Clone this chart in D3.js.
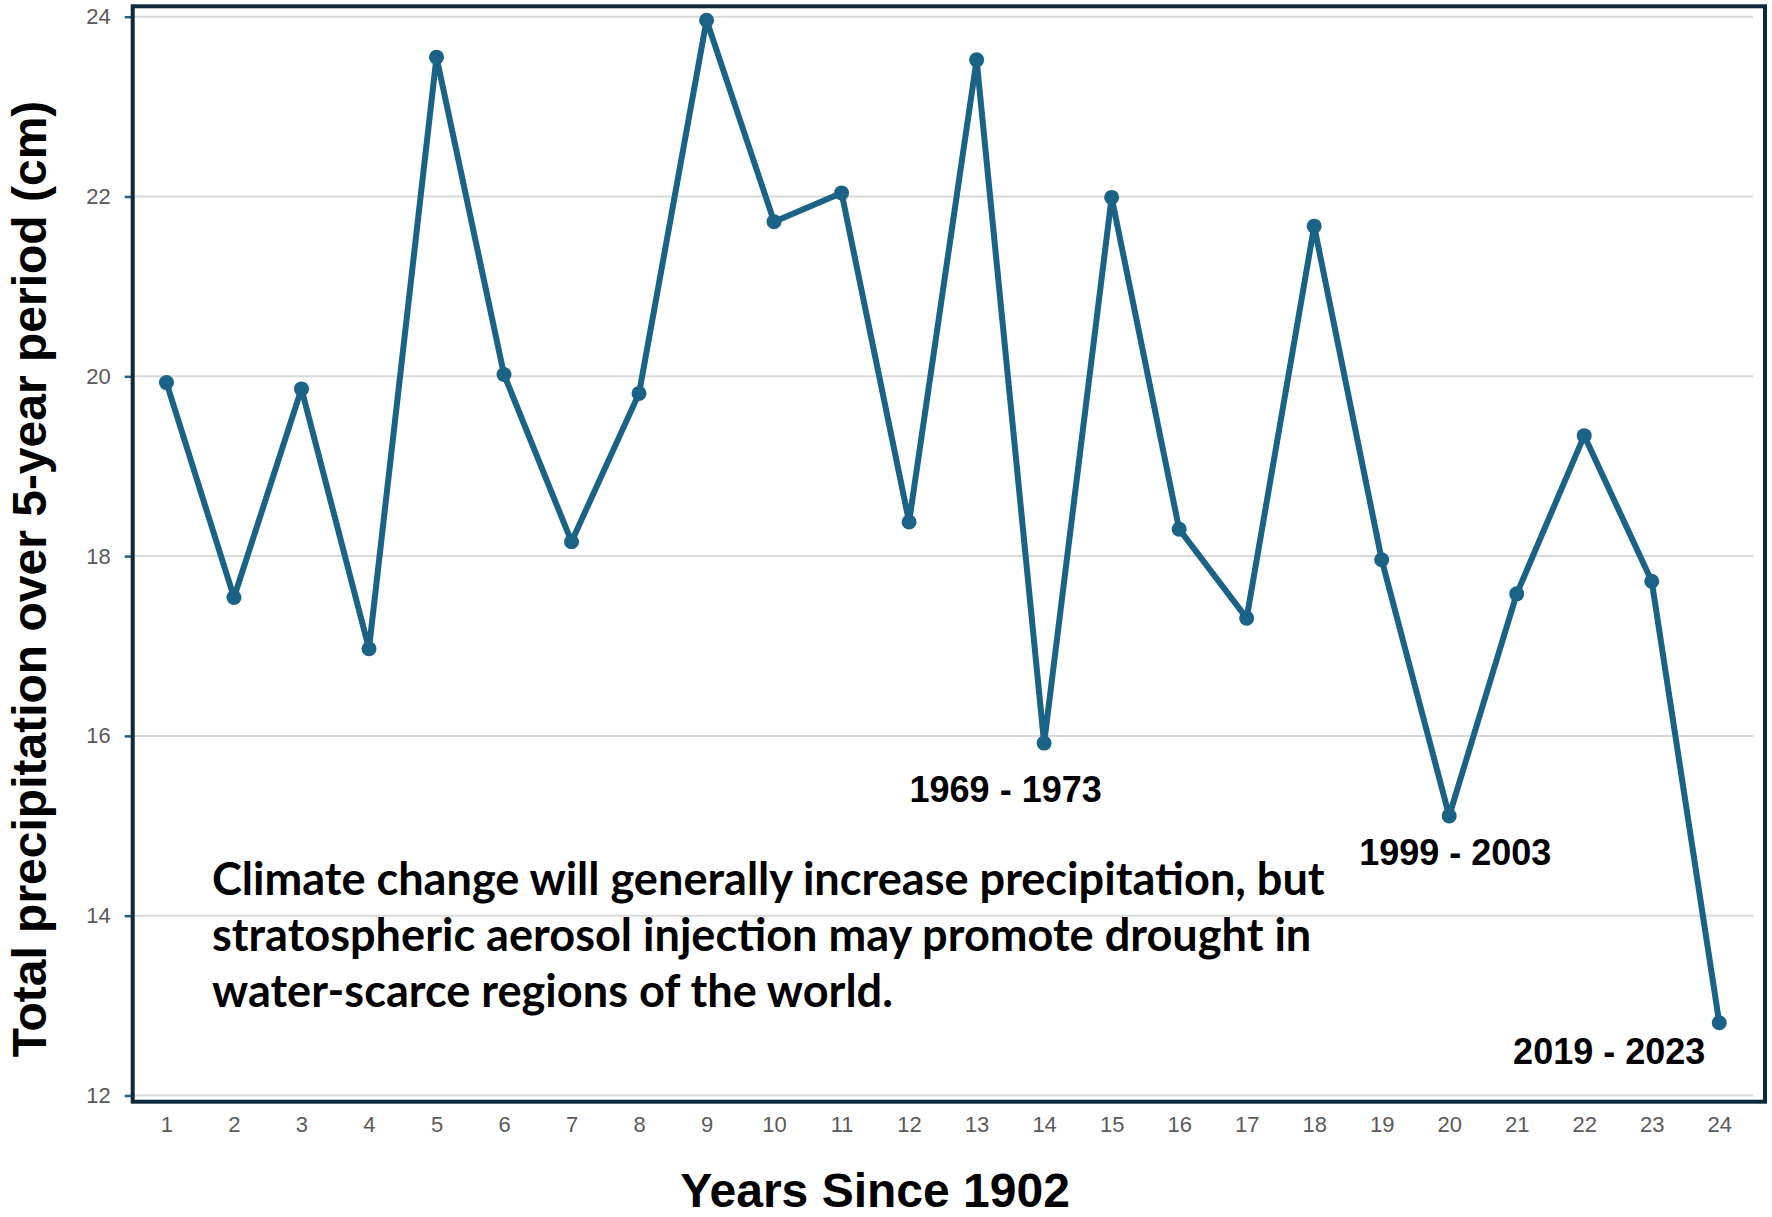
<!DOCTYPE html>
<html>
<head>
<meta charset="utf-8">
<script src="https://cdn.jsdelivr.net/npm/d3@7"></script>
<style>
  body { margin: 0; background: #fff; }
  svg { display: block; }
</style>
</head>
<body>
<div id="chart"></div>
<script>
// datos
const periods = d3.range(1, 25);
const precip = [19.93, 17.54, 19.86, 16.97, 23.55, 20.02, 18.16, 19.81, 23.96, 21.72, 22.04, 18.38,
  23.52, 15.92, 21.99, 18.30, 17.31, 21.67, 17.96, 15.11, 17.58, 19.34, 17.72, 12.81];
const yTicks = [12, 14, 16, 18, 20, 22, 24];
const periodLabels = ["1969 - 1973", "1999 - 2003", "2019 - 2023"];
const labelX = [13.43, 20.09, 22.37];
const labelY = [15.265, 14.56, 12.35];
const noteLines = [
  "Climate change will generally increase precipitation, but",
  "stratospheric aerosol injection may promote drought in",
  "water-scarce regions of the world."
];

const width = 1772, height = 1217;
const lineColor = "#1a6386";
const borderColor = "#0c2a3b";

const svg = d3.select("#chart").append("svg")
  .attr("width", width)
  .attr("height", height);

const x = d3.scaleLinear().domain([0.5, 24.5]).range([132.7, 1753]);
const y = d3.scaleLinear().domain([12, 24]).range([1095.5, 16.7]);

// grid
svg.append("g")
  .selectAll("line")
  .data(yTicks)
  .join("line")
  .attr("x1", x(0.5)).attr("x2", x(24.5))
  .attr("y1", d => y(d)).attr("y2", d => y(d))
  .attr("stroke", "#d9d9d9")
  .attr("stroke-width", 2);

// eje y
const yAxis = svg.append("g")
  .attr("transform", `translate(${x(0.5)},0)`)
  .call(d3.axisLeft(y).tickValues(yTicks).tickSize(8).tickPadding(14));
yAxis.select(".domain").remove();
yAxis.selectAll(".tick line").attr("stroke", lineColor).attr("stroke-width", 2.5);
yAxis.selectAll(".tick text")
  .attr("fill", "#5a5a5a")
  .style("font-family", "'Liberation Sans', Arial, sans-serif")
  .style("font-size", "22px");

// eje x
const xAxis = svg.append("g")
  .attr("transform", `translate(0,1101.7)`)
  .call(d3.axisBottom(x).tickValues(periods).tickSize(0).tickPadding(15).tickFormat(d3.format("d")));
xAxis.select(".domain").remove();
xAxis.selectAll(".tick text")
  .attr("fill", "#5a5a5a")
  .style("font-family", "'Liberation Sans', Arial, sans-serif")
  .style("font-size", "22px");

// borde del panel
svg.append("rect")
  .attr("x", x(0.5)).attr("y", 6.3)
  .attr("width", 1765 - x(0.5)).attr("height", 1101.7 - 6.3)
  .attr("fill", "none")
  .attr("stroke", borderColor)
  .attr("stroke-width", 4);

// linea y puntos
const line = d3.line()
  .x((d, i) => x(periods[i]))
  .y(d => y(d));

svg.append("path")
  .datum(precip)
  .attr("d", line)
  .attr("fill", "none")
  .attr("stroke", lineColor)
  .attr("stroke-width", 6)
  .attr("stroke-linejoin", "round");

svg.append("g")
  .selectAll("circle")
  .data(precip)
  .join("circle")
  .attr("cx", (d, i) => x(periods[i]))
  .attr("cy", d => y(d))
  .attr("r", 7.5)
  .attr("fill", lineColor);

// etiquetas de periodos
svg.append("g")
  .selectAll("text")
  .data(periodLabels)
  .join("text")
  .attr("x", (d, i) => x(labelX[i]))
  .attr("y", (d, i) => y(labelY[i]))
  .attr("text-anchor", "middle")
  .style("font-family", "'Liberation Sans', Arial, sans-serif")
  .style("font-weight", "bold")
  .style("font-size", "36px")
  .attr("fill", "#000")
  .text(d => d);

// nota
const note = svg.append("text")
  .attr("x", 212)
  .attr("y", 895)
  .style("font-family", "Lato, 'Open Sans', sans-serif")
  .style("font-weight", "bold")
  .style("font-size", "40px")
  .attr("fill", "#000");
note.selectAll("tspan")
  .data(noteLines)
  .join("tspan")
  .attr("x", 212)
  .attr("y", (d, i) => 895 + i * 56)
  .text(d => d);
// ajustar tamaño para que la primera linea mida lo mismo que en la figura
const firstLen = note.select("tspan").node().getComputedTextLength();
note.style("font-size", (40 * 1113 / firstLen) + "px");

// titulos de ejes
svg.append("text")
  .attr("x", 875)
  .attr("y", 1207)
  .attr("text-anchor", "middle")
  .style("font-family", "'Liberation Sans', Arial, sans-serif")
  .style("font-weight", "bold")
  .style("font-size", "48px")
  .text("Years Since 1902");

svg.append("text")
  .attr("transform", "translate(46,579) rotate(-90)")
  .attr("text-anchor", "middle")
  .style("font-family", "'Liberation Sans', Arial, sans-serif")
  .style("font-weight", "bold")
  .style("font-size", "48px")
  .text("Total precipitation over 5-year period (cm)");
</script>
</body>
</html>
